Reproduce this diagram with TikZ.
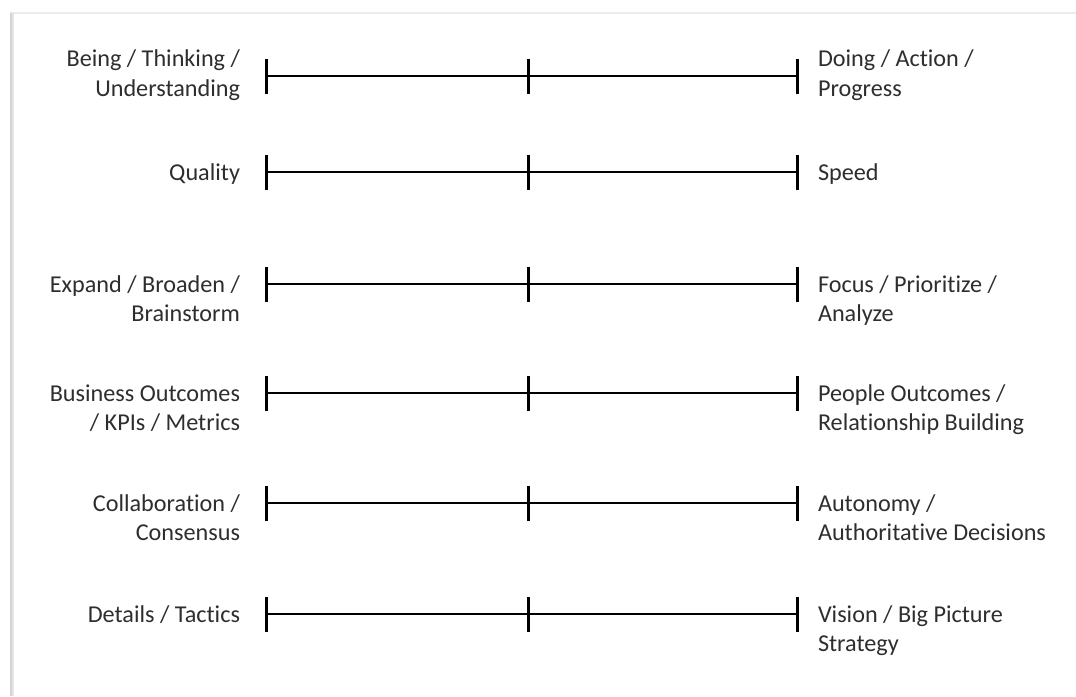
\documentclass[tikz,border=0pt]{standalone}
\usepackage{fontspec}
\setmainfont{Carlito}[Ligatures=NoCommon]
\definecolor{txt}{HTML}{2E2E2E}
\definecolor{frameL}{HTML}{D4D4D4}
\definecolor{frameT}{HTML}{ECECEC}
\begin{document}
\begin{tikzpicture}[x=1pt,y=-1pt,
  lbl/.style={inner sep=0pt,outer sep=0pt,text=txt,font=\fontsize{24.2}{29}\selectfont},
  lft/.style={lbl,anchor=base east},
  rgt/.style={lbl,anchor=base west},
  bar/.style={line width=2.6pt,black},
  tick/.style={line width=3pt,black}]
\useasboundingbox (0,0) rectangle (1076,696);
\fill[white] (0,0) rectangle (1076,696);
% page frame / shadow
\draw[frameT,line width=2pt] (10,13) -- (1076,13);
\draw[frameL!60,line width=4pt] (12,13) -- (12,696);
\draw[frameL,line width=2pt] (11,13) -- (11,696);

% scales
\foreach \n/\y in {1/76,2/172,3/284,4/393,5/503,6/614}{
  \coordinate (L\n) at (266,\y);
  \coordinate (M\n) at (528,\y);
  \coordinate (R\n) at (797,\y);
  \draw[bar] (L\n) -- (R\n);
  \foreach \p in {L,M,R}{
    \draw[tick] ([yshift=-18pt]\p\n) -- ([yshift=17pt]\p\n);
  }
}

% row 1
\node[lft] (l1a) at (240,66) {Being / Thinking /};
\node[lft] (l1b) at (240,96) {Understanding};
\node[rgt] (r1a) at (818,66) {Doing / Action /};
\node[rgt] (r1b) at (818,96) {Progress};
% row 2
\node[lft] (l2a) at (240,180) {Quality};
\node[rgt] (r2a) at (818,180) {Speed};
% row 3
\node[lft] (l3a) at (240,292) {Expand / Broaden /};
\node[lft] (l3b) at (240,321) {Brainstorm};
\node[rgt] (r3a) at (818,292) {Focus / Prioritize /};
\node[rgt] (r3b) at (818,321) {Analyze};
% row 4
\node[lft] (l4a) at (240,401) {Business Outcomes};
\node[lft] (l4b) at (240,430) {/ KPIs / Metrics};
\node[rgt] (r4a) at (818,401) {People Outcomes /};
\node[rgt] (r4b) at (818,430) {Relationship Building};
% row 5
\node[lft] (l5a) at (240,511) {Collaboration /};
\node[lft] (l5b) at (240,540) {Consensus};
\node[rgt] (r5a) at (818,511) {Autonomy /};
\node[rgt] (r5b) at (818,540) {Authoritative Decisions};
% row 6
\node[lft] (l6a) at (240,622) {Details / Tactics};
\node[rgt] (r6a) at (818,622) {Vision / Big Picture};
\node[rgt] (r6b) at (818,651) {Strategy};
\end{tikzpicture}
\end{document}
